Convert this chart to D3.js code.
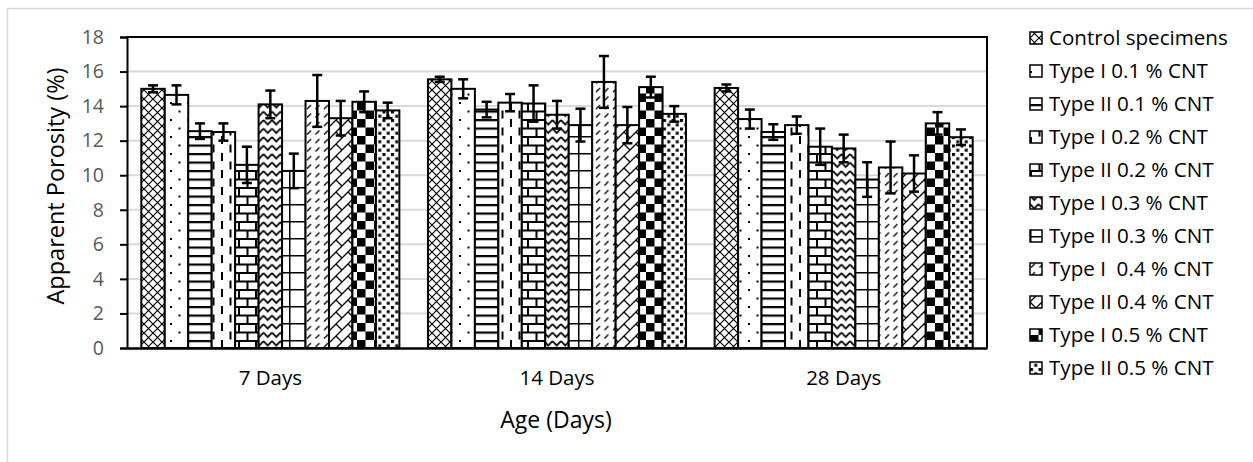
<!DOCTYPE html>
<html>
<head>
<meta charset="utf-8">
<script src="https://cdn.jsdelivr.net/npm/d3@7"></script>
<style>
  body { margin: 0; background: #fff; }
  svg text { font-family: "Open Sans", sans-serif; }
</style>
</head>
<body>
<div id="chart"></div>
<script>
// chart size
const width = 1253;
const height = 462;

// data
const categories = ["7 Days", "14 Days", "28 Days"];
const seriesNames = [
  "Control specimens", "Type I 0.1 % CNT", "Type II 0.1 % CNT", "Type I 0.2 % CNT",
  "Type II 0.2 % CNT", "Type I 0.3 % CNT", "Type II 0.3 % CNT", "Type I  0.4 % CNT",
  "Type II 0.4 % CNT", "Type I 0.5 % CNT", "Type II 0.5 % CNT"
];
const means7 = [15.0, 14.65, 12.55, 12.5, 10.6, 14.1, 10.25, 14.3, 13.3, 14.25, 13.75];
const err7 = [0.2, 0.55, 0.45, 0.5, 1.05, 0.8, 1.0, 1.5, 1.0, 0.6, 0.45];
const means14 = [15.55, 15.0, 13.8, 14.2, 14.15, 13.5, 12.9, 15.4, 12.9, 15.1, 13.55];
const err14 = [0.15, 0.55, 0.45, 0.5, 1.05, 0.8, 0.95, 1.5, 1.05, 0.6, 0.45];
const means28 = [15.05, 13.25, 12.5, 12.9, 11.65, 11.55, 9.75, 10.45, 10.1, 13.0, 12.2];
const err28 = [0.2, 0.55, 0.45, 0.5, 1.05, 0.8, 1.0, 1.5, 1.05, 0.65, 0.45];
const yTicks = [0, 2, 4, 6, 8, 10, 12, 14, 16, 18];

const meansByCat = [means7, means14, means28];
const errByCat = [err7, err14, err28];

// plot area
const plot = { left: 127, right: 987, top: 37, bottom: 348 };

const svg = d3.select("#chart").append("svg")
  .attr("width", width)
  .attr("height", height);

// outer chart frame
svg.append("rect")
  .attr("x", 7.5).attr("y", 8.5)
  .attr("width", width).attr("height", height)
  .attr("fill", "#fff")
  .attr("stroke", "#d9d9d9")
  .attr("stroke-width", 1.5);

//Patterns, one per series
const defs = svg.append("defs");
function pat(id, w, h) {
  return defs.append("pattern")
    .attr("id", id)
    .attr("patternUnits", "userSpaceOnUse")
    .attr("width", w).attr("height", h);
}
function bg(p, w, h) {
  p.append("rect").attr("width", w).attr("height", h).attr("fill", "#fff");
}

// 0 diagonal cross lattice
let p = pat("p0", 9, 9); bg(p, 9, 9);
p.append("path").attr("d", "M0,0L9,9M9,0L0,9").attr("stroke", "#000").attr("stroke-width", 1.2);
// 1 sparse dots
p = pat("p1", 17, 17); bg(p, 17, 17);
p.append("rect").attr("x", 0).attr("y", 0).attr("width", 2).attr("height", 2);
p.append("rect").attr("x", 8.5).attr("y", 8.5).attr("width", 2).attr("height", 2);
// 2 horizontal lines
p = pat("p2", 8.5, 8.5); bg(p, 8.5, 8.5);
p.append("rect").attr("x", 0).attr("y", 0).attr("width", 8.5).attr("height", 2.2);
// 3 dashed vertical
p = pat("p3", 17, 17); bg(p, 17, 17);
p.append("rect").attr("x", 0).attr("y", 0).attr("width", 2).attr("height", 8);
p.append("rect").attr("x", 8.5).attr("y", 8.5).attr("width", 2).attr("height", 8);
// 4 bricks
p = pat("p4", 17, 17); bg(p, 17, 17);
p.append("path").attr("d", "M0,1L17,1M0,9.5L17,9.5M1,1L1,9.5M9.5,9.5L9.5,17")
  .attr("stroke", "#000").attr("stroke-width", 2);
// 5 zigzag
p = pat("p5", 8.5, 8.5); bg(p, 8.5, 8.5);
p.append("path").attr("d", "M0,1L4.25,5.5L8.5,1").attr("fill", "none")
  .attr("stroke", "#000").attr("stroke-width", 1.8);
// 6 large grid
p = pat("p6", 17, 17); bg(p, 17, 17);
p.append("path").attr("d", "M0,0.75L17,0.75M0.75,0L0.75,17")
  .attr("stroke", "#000").attr("stroke-width", 1.5);
// 7 dashed upward diagonal
p = pat("p7", 8.5, 8.5); bg(p, 8.5, 8.5);
p.append("path").attr("d", "M1,7L5,3").attr("stroke", "#000").attr("stroke-width", 1.4);
// 8 diagonal brick
p = pat("p8", 12, 12); bg(p, 12, 12);
p.append("path").attr("d", "M0,12L12,0M-3,3L3,-3M9,15L15,9M0,0L6,6")
  .attr("stroke", "#000").attr("stroke-width", 1.3);
// 9 checkerboard
p = pat("p9", 17, 17); bg(p, 17, 17);
p.append("rect").attr("x", 0).attr("y", 0).attr("width", 8.5).attr("height", 8.5);
p.append("rect").attr("x", 8.5).attr("y", 8.5).attr("width", 8.5).attr("height", 8.5);
// 10 confetti dots
p = pat("p10", 8.5, 8.5); bg(p, 8.5, 8.5);
p.append("rect").attr("x", 0).attr("y", 0).attr("width", 3).attr("height", 3);
p.append("rect").attr("x", 4.25).attr("y", 4.25).attr("width", 3).attr("height", 3);

// Scales
const x0 = d3.scaleBand().domain(categories).range([plot.left, plot.right]);
const x1 = d3.scaleBand().domain(seriesNames).range([0, x0.bandwidth()]).paddingOuter(0.61);
const y = d3.scaleLinear().domain([0, 18]).range([plot.bottom, plot.top]);

// gridlines
svg.append("g")
  .selectAll("line")
  .data(yTicks.filter(d => d > 0 && d < 18))
  .join("line")
  .attr("x1", plot.left).attr("x2", plot.right)
  .attr("y1", d => y(d)).attr("y2", d => y(d))
  .attr("stroke", "#d9d9d9")
  .attr("stroke-width", 2);

// bars
const rows = categories.flatMap((c, ci) =>
  seriesNames.map((s, si) => ({ cat: c, series: s, si, v: meansByCat[ci][si], e: errByCat[ci][si] })));

svg.append("g")
  .selectAll("rect")
  .data(rows)
  .join("rect")
  .attr("x", d => x0(d.cat) + x1(d.series))
  .attr("y", d => y(d.v))
  .attr("width", x1.bandwidth())
  .attr("height", d => y(0) - y(d.v))
  .attr("fill", d => `url(#p${d.si})`)
  .attr("stroke", "#000")
  .attr("stroke-width", 2);

// error bars
const eb = svg.append("g").attr("stroke", "#000").attr("stroke-width", 2.5);
const cx = d => x0(d.cat) + x1(d.series) + x1.bandwidth() / 2;
eb.selectAll("line.v").data(rows).join("line").attr("class", "v")
  .attr("x1", cx).attr("x2", cx)
  .attr("y1", d => y(d.v + d.e)).attr("y2", d => y(d.v - d.e));
eb.selectAll("line.t").data(rows).join("line").attr("class", "t")
  .attr("x1", d => cx(d) - 5).attr("x2", d => cx(d) + 5)
  .attr("y1", d => y(d.v + d.e)).attr("y2", d => y(d.v + d.e));
eb.selectAll("line.b").data(rows).join("line").attr("class", "b")
  .attr("x1", d => cx(d) - 5).attr("x2", d => cx(d) + 5)
  .attr("y1", d => y(d.v - d.e)).attr("y2", d => y(d.v - d.e));

// plot frame top / right
svg.append("path")
  .attr("d", `M${plot.left},${plot.top}H${plot.right}V${plot.bottom}`)
  .attr("fill", "none").attr("stroke", "#000").attr("stroke-width", 2);

// y axis
const yAxis = svg.append("g")
  .attr("transform", `translate(${plot.left},0)`)
  .call(d3.axisLeft(y).tickValues(yTicks).tickSize(7).tickPadding(16));
yAxis.select(".domain").attr("stroke", "#000").attr("stroke-width", 2);
yAxis.selectAll(".tick line").attr("stroke", "#000").attr("stroke-width", 2);
yAxis.selectAll(".tick text")
  .attr("fill", "#595959")
  .style("font-size", "19.5px")
  .style("font-family", "'Open Sans', sans-serif");

// x axis
const xAxis = svg.append("g")
  .attr("transform", `translate(0,${plot.bottom})`)
  .call(d3.axisBottom(x0).tickSize(0).tickPadding(22));
xAxis.select(".domain").attr("stroke", "#000").attr("stroke-width", 2.5);
xAxis.selectAll(".tick text")
  .attr("fill", "#000")
  .style("font-size", "20.5px")
  .style("font-family", "'Open Sans', sans-serif");

// axis titles
svg.append("text")
  .attr("x", (plot.left + plot.right) / 2 - 1)
  .attr("y", 428)
  .attr("text-anchor", "middle")
  .style("font-size", "23px")
  .text("Age (Days)");

svg.append("text")
  .attr("transform", `translate(64,186) rotate(-90)`)
  .attr("text-anchor", "middle")
  .style("font-size", "23.5px")
  .text("Apparent Porosity (%)");

// legend
const legend = svg.append("g").attr("transform", "translate(1030,38)");
const item = legend.selectAll("g")
  .data(seriesNames)
  .join("g")
  .attr("transform", (d, i) => `translate(0,${i * 33})`);
item.append("rect")
  .attr("x", 0).attr("y", -6)
  .attr("width", 12).attr("height", 12)
  .attr("fill", (d, i) => `url(#p${i})`)
  .attr("stroke", "#000")
  .attr("stroke-width", 1.5);
item.append("text")
  .attr("x", 19)
  .attr("dy", "0.35em")
  .attr("xml:space", "preserve")
  .style("white-space", "pre")
  .style("font-size", "20.6px")
  .text(d => d);
</script>
</body>
</html>
